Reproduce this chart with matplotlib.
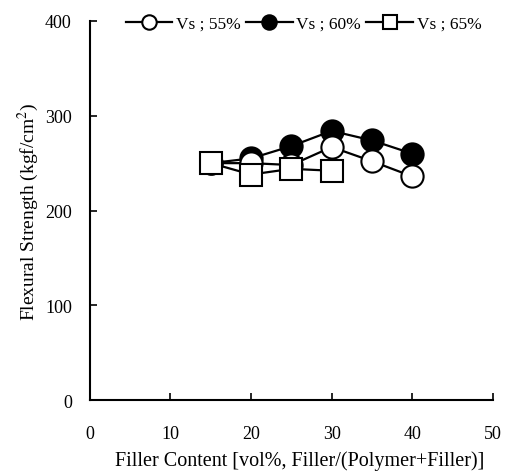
import matplotlib
matplotlib.use("Agg")
import matplotlib.pyplot as plt

# Data
filler = [15, 20, 25, 30, 35, 40]
vs55 = [250, 250, 248, 267, 252, 236]
vs60 = [250, 255, 268, 284, 274, 260]
filler65 = [15, 20, 25, 30]
vs65 = [250, 238, 244, 242]

plt.rcParams['font.family'] = ['Liberation Serif', 'DejaVu Serif']
plt.rcParams['mathtext.fontset'] = 'stix'
plt.rcParams['font.size'] = 13

fig = plt.figure(figsize=(5.05, 4.77), dpi=100)
ax = fig.add_axes([0.178, 0.159, 0.798, 0.795])

ax.plot(filler, vs55, '-o', color='black', mfc='white', mec='black', ms=16, lw=1.6, mew=1.5, label='Vs ; 55%', zorder=3)
ax.plot(filler, vs60, '-o', color='black', mfc='black', mec='black', ms=16, lw=1.6, mew=1.5, label='Vs ; 60%', zorder=2)
ax.plot(filler65, vs65, '-s', color='black', mfc='white', mec='black', ms=16, lw=1.6, mew=1.5, label='Vs ; 65%', zorder=4)

ax.set_xlim(0, 50)
ax.set_ylim(0, 400)
ax.set_xticks([0, 10, 20, 30, 40, 50])
ax.set_yticks([0, 100, 200, 300, 400])
ax.tick_params(direction='in', length=5, width=1.2, labelsize=13)
ax.tick_params(axis='x', pad=18)
ax.tick_params(axis='y', pad=13)
for s in ['top', 'right']:
    ax.spines[s].set_visible(False)
for s in ['left', 'bottom']:
    ax.spines[s].set_linewidth(1.5)

ax.set_xlabel('Filler Content [vol%, Filler/(Polymer+Filler)]', fontsize=14.5, labelpad=6)
ax.xaxis.label.set_x(0.52)
ax.set_ylabel('Flexural Strength (kgf/cm$^2$)', fontsize=14, labelpad=3)

leg = ax.legend(loc='center', bbox_to_anchor=(0.53, 0.992), ncol=3, frameon=False,
                markerscale=0.65, handlelength=2.7, columnspacing=0.3, handletextpad=0.2,
                borderpad=0, fontsize=12.5)

fig.savefig('out.png', dpi=100)
